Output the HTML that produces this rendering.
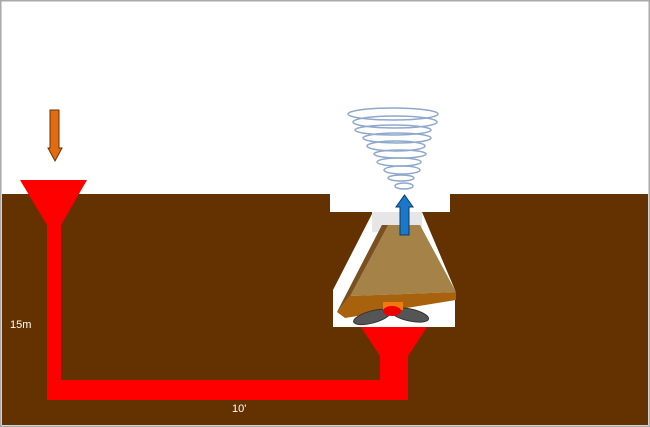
<!DOCTYPE html>
<html><head><style>body{margin:0;background:#fff}svg{display:block}</style></head><body>
<svg width="650" height="427" viewBox="0 0 650 427" xmlns="http://www.w3.org/2000/svg">
<rect x="0" y="0" width="650" height="427" fill="#fff"/>
<rect x="2" y="194" width="646" height="231" fill="#643200"/>
<rect x="0.5" y="0.5" width="649" height="426" fill="none" stroke="#aaa" stroke-width="2"/>
<!-- cavity -->
<polygon points="330,194 450,194 450,212 422,212 455,290 455,327 333,327 333,290 373,212 330,212" fill="#fff"/>
<rect x="372" y="212" width="50" height="20" fill="#e6e6e6"/>
<!-- brown box -->
<polygon points="382,225 420,225 456,292 350,296 337,312" fill="#a58248"/>
<polygon points="337,312 382,225 388,225 350,296" fill="#7a5020"/>
<polygon points="337,312 350,296 456,292 456,300 345,318" fill="#a8620e"/>
<!-- fan -->
<ellipse cx="372" cy="317" rx="19" ry="6" fill="#555" stroke="#333" transform="rotate(-15 372 317)"/>
<ellipse cx="410" cy="315" rx="19" ry="6" fill="#555" stroke="#333" transform="rotate(12 410 315)"/>
<rect x="383" y="302" width="20" height="8" fill="#f07a10"/>
<ellipse cx="392" cy="311" rx="9" ry="5" fill="#e00"/>
<!-- pipes -->
<polygon points="20,180 87,180 61,225 47,225" fill="#f00"/>
<rect x="47" y="224" width="14" height="176" fill="#f00"/>
<rect x="47" y="380" width="361" height="20" fill="#f00"/>
<polygon points="361,327 427,327 408,356 380,356" fill="#f00"/>
<rect x="380" y="355" width="28" height="45" fill="#f00"/>
<!-- arrows -->
<polygon points="50,110 59,110 59,148 62,148 55,161 48,148 50,148" fill="#e06b10" stroke="#6a3000"/>
<polygon points="400,235 409,235 409,207 413,207 404.5,195 396,207 400,207" fill="#1a78c8" stroke="#0a3a6a"/>
<!-- tornado -->
<g fill="none" stroke="#8fa8cc" stroke-width="1.5">
<ellipse cx="393" cy="114" rx="45" ry="6"/>
<ellipse cx="395" cy="122" rx="42" ry="6"/>
<ellipse cx="393" cy="130" rx="38" ry="5"/>
<ellipse cx="397" cy="138" rx="34" ry="5"/>
<ellipse cx="396" cy="146" rx="29" ry="5"/>
<ellipse cx="400" cy="154" rx="26" ry="4"/>
<ellipse cx="399" cy="162" rx="22" ry="4"/>
<ellipse cx="402" cy="170" rx="18" ry="4"/>
<ellipse cx="401" cy="178" rx="13" ry="3"/>
<ellipse cx="404" cy="186" rx="9" ry="3"/>
</g>
<text x="10" y="328" font-family="Liberation Sans, sans-serif" font-size="11" fill="#fff">15m</text>
<text x="232" y="412" font-family="Liberation Sans, sans-serif" font-size="11" fill="#fff">10'</text>
</svg>
</body></html>
